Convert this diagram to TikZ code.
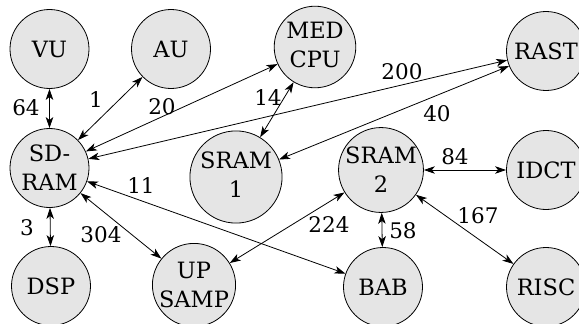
\documentclass[tikz,border=0pt]{standalone}
\usepackage{fontspec}
\setmainfont{DejaVu Serif}
\usetikzlibrary{arrows.meta}
\newcommand{\lowtxt}[2]{\raisebox{-6pt}{\begin{tabular}{@{}c@{}}#1\\#2\end{tabular}}}
\begin{document}
\begin{tikzpicture}[x=1pt,y=-1pt,
  unit/.style={circle,draw=black,line width=0.8pt,fill=black!10,minimum size=79pt,inner sep=0pt,align=center,font=\fontsize{22.5}{29}\selectfont},
  lbl/.style={font=\fontsize{21.5}{24}\selectfont,inner sep=0pt},
  link/.style={line width=0.8pt,{Stealth[length=11pt,width=7.5pt,inset=3pt]}-{Stealth[length=11pt,width=7.5pt,inset=3pt]}}]
\useasboundingbox (0,0) rectangle (579,324);
\fill[white] (0,0) rectangle (579,324);
\node[unit] (vu) at (49.5,49) {VU};
\node[unit] (au) at (171,49) {AU};
\node[unit] (med) at (315,47) {\lowtxt{MED}{CPU}};
\node[unit] (rast) at (546,51) {RAST};
\node[unit] (sdram) at (49.5,168) {SD-\\RAM};
\node[unit] (sram1) at (236,177) {\lowtxt{SRAM}{1}};
\node[unit] (sram2) at (381,170) {SRAM\\2};
\node[unit] (idct) at (546,170) {IDCT};
\node[unit] (dsp) at (51,286) {DSP};
\node[unit] (up) at (194,285) {UP\\SAMP};
\node[unit] (bab) at (383,287) {BAB};
\node[unit] (risc) at (546,287) {RISC};
\draw[link] (vu) -- (sdram);
\draw[link] (au) -- (sdram);
\draw[link] (med) -- (sdram);
\draw[link] (rast) -- (sdram);
\draw[link] (med) -- (sram1);
\draw[link] (rast) -- (sram1);
\draw[link] (sram2) -- (idct);
\draw[link] (sdram) -- (dsp);
\draw[link] (sdram) -- (up);
\draw[link] (sdram) -- (bab);
\draw[link] (up) -- (sram2);
\draw[link] (sram2) -- (bab);
\draw[link] (sram2) -- (risc);
\node[lbl] (l64) at (26,108) {64};
\node[lbl] (l1) at (96,100) {1};
\node[lbl] (l20) at (162,107) {20};
\node[lbl] (l14) at (268,98) {14};
\node[lbl] (l200) at (402,72) {200};
\node[lbl] (l40) at (437,114) {40};
\node[lbl] (l84) at (455,157) {84};
\node[lbl] (l11) at (141,186) {11};
\node[lbl] (l3) at (27,228) {3};
\node[lbl] (l304) at (101,235) {304};
\node[lbl] (l224) at (329,225) {224};
\node[lbl] (l58) at (403,231) {58};
\node[lbl] (l167) at (478,216) {167};
\end{tikzpicture}
\end{document}
